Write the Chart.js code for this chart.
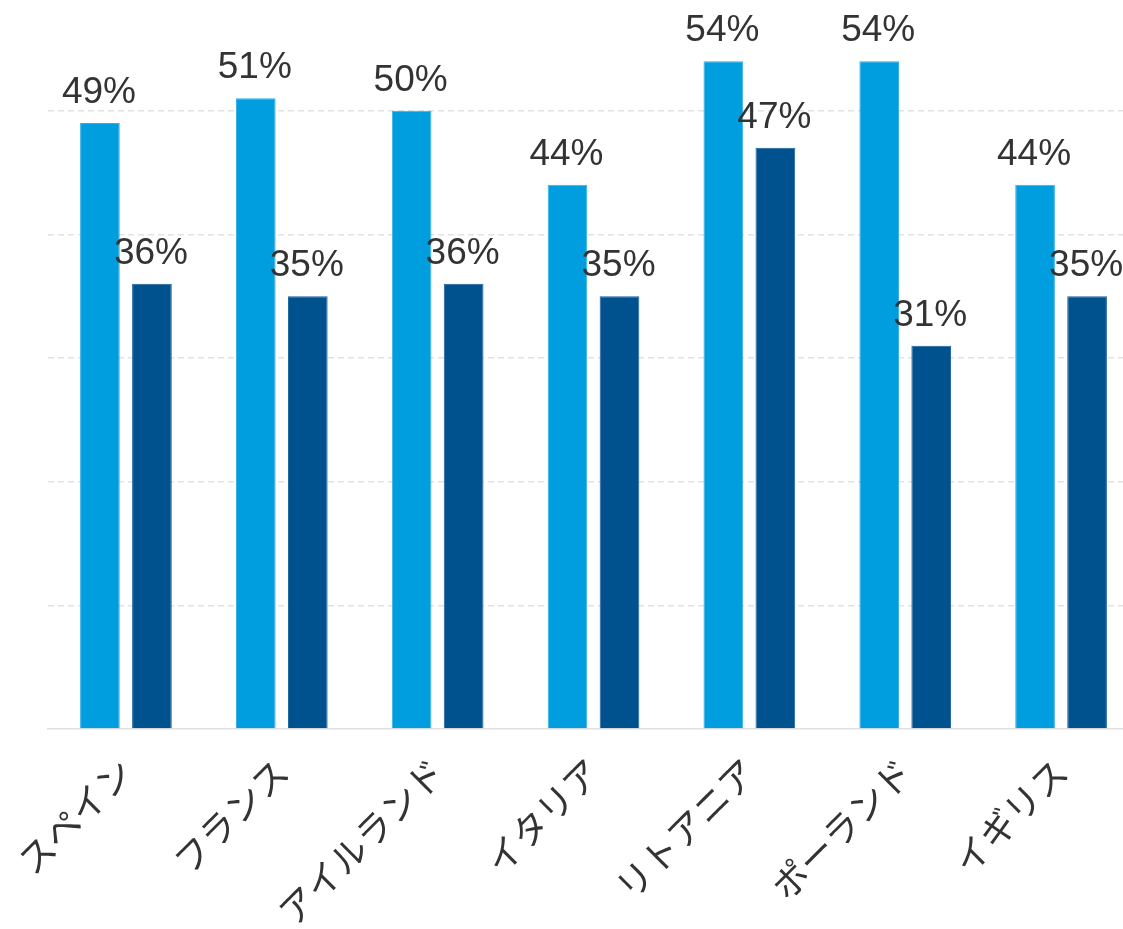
<!DOCTYPE html>
<html>
<head>
<meta charset="utf-8">
<script src="https://cdn.jsdelivr.net/npm/chart.js@4"></script>
<style>
  html, body { margin: 0; padding: 0; background: #fff; overflow: hidden; }
  #wrap { position: relative; width: 1123px; height: 929px; overflow: hidden; }
  /* canvas is a little larger than the page so the plot runs past the top and right edges */
  #chart { position: absolute; left: 0; top: -13px; }
</style>
</head>
<body>
<div id="wrap"><canvas id="chart" width="1139" height="942"></canvas></div>
<script>
// categories and values
const countries = ['スペイン', 'フランス', 'アイルランド', 'イタリア', 'リトアニア', 'ポーランド', 'イギリス'];
const seriesA = [49, 51, 50, 44, 54, 54, 44];
const seriesB = [36, 35, 36, 35, 47, 31, 35];
const yTicks = [0, 10, 20, 30, 40, 50, 60];

const LIGHT = '#009DDF';
const DARK = '#00528F';

// draws "49%" style labels above each bar
const valueLabels = {
  id: 'valueLabels',
  afterDatasetsDraw(chart) {
    const ctx = chart.ctx;
    ctx.save();
    ctx.font = '37px "Liberation Sans", Arial, sans-serif';
    ctx.fillStyle = '#333333';
    ctx.textAlign = 'center';
    ctx.textBaseline = 'alphabetic';
    chart.data.datasets.forEach((ds, i) => {
      chart.getDatasetMeta(i).data.forEach((bar, j) => {
        ctx.fillText(ds.data[j] + '%', bar.x - 1, bar.y - 20);
      });
    });
    ctx.restore();
  }
};

new Chart(document.getElementById('chart'), {
  type: 'bar',
  data: {
    labels: countries,
    datasets: [
      { label: 'A', data: seriesA, backgroundColor: LIGHT, borderColor: '#33AEE6', borderWidth: 1 },
      { label: 'B', data: seriesB, backgroundColor: DARK, borderColor: '#1A6199', borderWidth: 1 }
    ]
  },
  options: {
    responsive: false,
    animation: false,
    categoryPercentage: 0.6675,
    barPercentage: 0.763,
    layout: { padding: { left: 48, right: 0, top: 0, bottom: 0 } },
    plugins: {
      legend: { display: false },
      tooltip: { enabled: false }
    },
    scales: {
      x: {
        offset: true,
        grid: { display: false },
        border: { display: true, color: '#E0E0E0', width: 1.5 },
        ticks: {
          autoSkip: false,
          maxRotation: 45,
          minRotation: 45,
          padding: 13,
          color: '#333333',
          font: { family: '"Noto Sans CJK JP", sans-serif', size: 36 }
        },
        afterFit(scale) {
          scale.height = 200;
          scale.paddingLeft = 0;
          scale.paddingRight = 0;
        }
      },
      y: {
        min: yTicks[0],
        max: yTicks[yTicks.length - 1],
        afterBuildTicks(scale) {
          scale.ticks = yTicks.map(v => ({ value: v }));
        },
        ticks: { display: false },
        grid: {
          drawTicks: false,
          lineWidth: 1.5,
          color: c => (c.tick && c.tick.value === 0) ? 'rgba(0,0,0,0)' : '#E2E2E2'
        },
        border: { display: false, dash: [6, 4] },
        afterFit(scale) {
          scale.width = 0;
        }
      }
    }
  },
  plugins: [valueLabels]
});
</script>
</body>
</html>
